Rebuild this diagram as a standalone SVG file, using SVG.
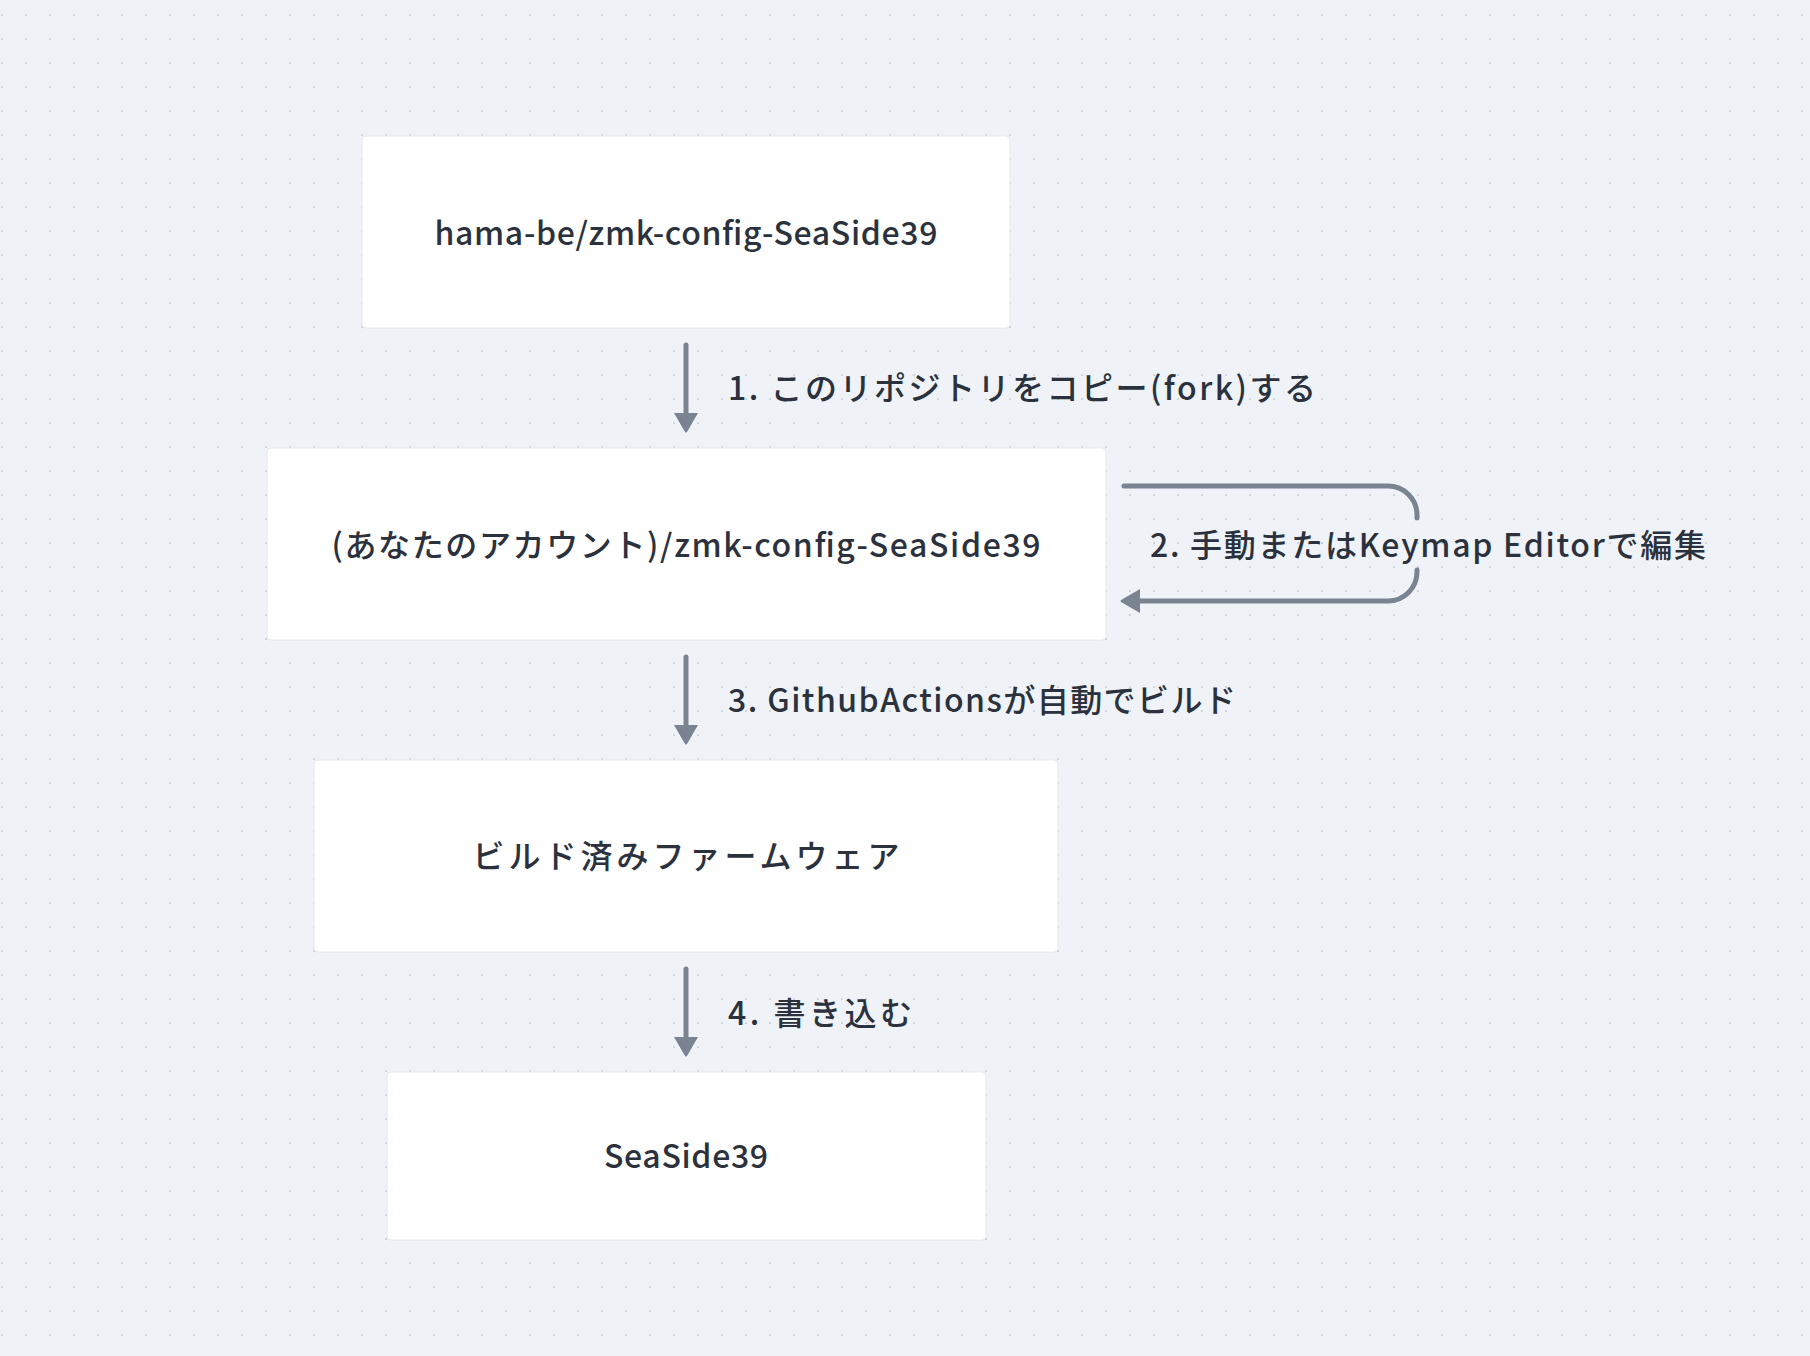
<svg xmlns="http://www.w3.org/2000/svg" width="1810" height="1356" viewBox="0 0 1810 1356">
<style>
.node{fill:#ffffff;stroke:#e4e8ed;stroke-width:1}
.t{font-family:"Noto Sans CJK JP","Noto Sans",sans-serif;font-size:32px;font-weight:500;fill:#2b323d}
.c{fill:none;stroke:#7a8491;stroke-width:5;stroke-linecap:round}
</style>
<defs>
<pattern id="dots" x="0" y="0" width="24" height="24" patternUnits="userSpaceOnUse">
<rect x="1.3" y="14.3" width="1.6" height="1.6" fill="#bfc4cb"/>
</pattern>
<marker id="ah" viewBox="0 0 20 26" refX="6" refY="13" markerWidth="4" markerHeight="5.2" orient="auto" markerUnits="strokeWidth">
<path d="M0,1 L19,12 Q20,13 19,14 L0,25 Z" fill="#7a8491"/>
</marker>
</defs>
<rect width="1810" height="1356" fill="#eff3f7"/>
<rect width="1810" height="1356" fill="url(#dots)"/>
<g id="connectors">
<path class="c" d="M686,345 V419" marker-end="url(#ah)"/>
<path class="c" d="M686,657 V731" marker-end="url(#ah)"/>
<path class="c" d="M686,969 V1043" marker-end="url(#ah)"/>
<path class="c" d="M1124,486 H1388 A29,29 0 0 1 1417,515 V518"/>
<path class="c" d="M1417,570 V572 A29,29 0 0 1 1388,601 H1134" marker-end="url(#ah)"/>
<text class="t" x="728" y="400" textLength="588">1. このリポジトリをコピー(fork)する</text>
<text class="t" x="1150" y="557" textLength="556">2. 手動またはKeymap Editorで編集</text>
<text class="t" x="728" y="712" textLength="508">3. GithubActionsが自動でビルド</text>
<text class="t" x="728" y="1025" textLength="184">4. 書き込む</text>
</g>
<g id="node1">
<rect class="node" x="362" y="136" width="648" height="192" rx="4"/>
<text class="t" x="686" y="245" text-anchor="middle" textLength="503">hama-be/zmk-config-SeaSide39</text>
</g>
<g id="node2">
<rect class="node" x="267" y="448" width="839" height="192" rx="4"/>
<text class="t" x="686" y="557" text-anchor="middle" textLength="709">(あなたのアカウント)/zmk-config-SeaSide39</text>
</g>
<g id="node3">
<rect class="node" x="314" y="760" width="744" height="192" rx="4"/>
<text class="t" x="686" y="868" text-anchor="middle" textLength="427">ビルド済みファームウェア</text>
</g>
<g id="node4">
<rect class="node" x="387" y="1072" width="599" height="168" rx="4"/>
<text class="t" x="686" y="1168" text-anchor="middle" textLength="164">SeaSide39</text>
</g>
</svg>
